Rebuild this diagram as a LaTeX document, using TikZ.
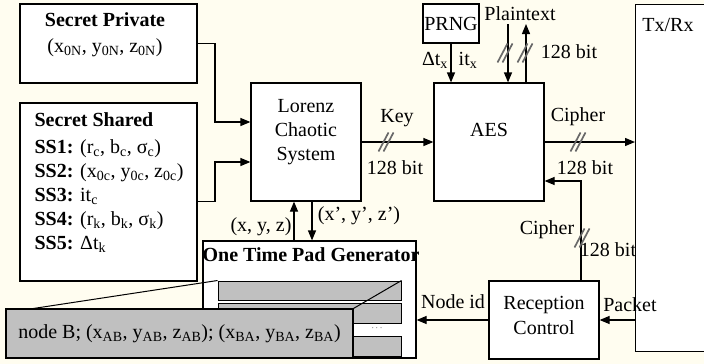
\documentclass[tikz,border=0pt]{standalone}
\usepackage{fontspec}
\setmainfont{Liberation Serif}
\usetikzlibrary{arrows.meta}
\definecolor{bgc}{RGB}{255,253,240}
\definecolor{padgray}{RGB}{192,192,192}
\definecolor{slashgray}{RGB}{105,105,105}
\tikzset{
  box/.style={draw, fill=white, inner sep=0pt},
  padrow/.style={draw, fill=padgray, inner sep=0pt, minimum width=183, line width=1pt},
  lbl/.style={inner sep=0pt},
  conn/.style={->, line width=1.2pt},
  busmark/.pic={\draw[slashgray, line width=1.7pt] (-7.5,9.5) -- (2.5,-9.5) (-2.5,9.5) -- (7.5,-9.5);}
}
\newcommand{\sbs}[1]{\textsubscript{#1}}
\begin{document}
\begin{tikzpicture}[x=1pt, y=-1pt, font=\fontsize{20}{24}\selectfont, line width=1.2pt,
  >={Triangle[length=10pt,width=8pt]}]
\useasboundingbox[fill=bgc] (0,0) rectangle (704,364);

% boxes
\node[box, minimum width=177, minimum height=79] (sp) at (108.5,43.5) {};
\node[box, minimum width=177, minimum height=178] (ss) at (108.5,192) {};
\node[box, minimum width=110, minimum height=118] (lz) at (306,142) {};
\node[box, minimum width=110, minimum height=118] (aes) at (489,142) {};
\node[box, minimum width=56, minimum height=39] (prng) at (451,23.5) {};
\node[box, minimum width=77, minimum height=347, anchor=north west] (txrx) at (635,4) {};
\node[box, minimum width=110, minimum height=78] (rc) at (544,320) {};
\node[box, minimum width=213, minimum height=117] (otp) at (309.5,299.5) {};

% texts in boxes
\node[lbl] (spt) at (105,20) {\textbf{Secret Private}};
\node[lbl] (spv) at (105,48) {(x\sbs{0N}, y\sbs{0N}, z\sbs{0N})};
\node[lbl, anchor=west] (sst) at (34,120) {\textbf{Secret Shared}};
\node[lbl, anchor=north west, align=left, font=\fontsize{20}{24}\selectfont] (ssl) at (34,139)
 {\textbf{SS1:} (r\sbs{c}, b\sbs{c}, σ\sbs{c})\\
  \textbf{SS2:} (x\sbs{0c}, y\sbs{0c}, z\sbs{0c})\\
  \textbf{SS3:} it\sbs{c}\\
  \textbf{SS4:} (r\sbs{k}, b\sbs{k}, σ\sbs{k})\\
  \textbf{SS5:} Δt\sbs{k}};
\node[lbl, align=center, font=\fontsize{20}{24}\selectfont] (lzt) at (306,132) {Lorenz\\Chaotic\\System};
\node[lbl] (aest) at (489,130) {AES};
\node[lbl] (prngt) at (451,23.5) {PRNG};
\node[lbl] (txrxt) at (668,25) {Tx/Rx};
\node[lbl, align=center, font=\fontsize{20}{25}\selectfont] (rct) at (544,315) {Reception\\Control};
\node[lbl] (otpt) at (311,255) {\textbf{One Time Pad Generator}};

% one time pad rows
\node[padrow, minimum height=19] (row1) at (309.5,290.5) {};
\node[padrow, minimum height=20] (row2) at (309.5,313) {};
\node[lbl, font=\fontsize{9}{10}\selectfont] (row3) at (377,328) {$\cdots$};
\node[padrow, minimum height=20] (row4) at (309.5,346) {};

% connectors
\coordinate (j1) at (215,122);
\coordinate (j2) at (215,162);
\draw[conn] (sp.east) -| (j1) -- (j1 -| lz.west);
\draw[conn] (ss.east |- lz.south) -| (j2) -- (j2 -| lz.west);
\draw[conn] (lz.east) -- (aes.west);
\draw[conn] (prng.south) -- (prng.south |- aes.north);
\coordinate (pt1) at (508,24);
\coordinate (pt2) at (526,24);
\draw[conn] (pt1) -- (pt1 |- aes.north);
\draw[conn] (pt2 |- aes.north) -- (pt2);
\draw[conn] (aes.east) -- (aes.east -| txrx.west);
\coordinate (cr) at (581,181);
\draw[conn] (rc.north -| cr) -- (cr) -- (cr -| aes.east);
\draw[conn] (rc.east -| txrx.west) -- (rc.east);
\draw[conn] (rc.west) -- (rc.west -| otp.east);
\coordinate (u) at (294,0);
\coordinate (v) at (312,0);
\draw[conn] (u |- otp.north) -- (u |- lz.south);
\draw[conn] (v |- lz.south) -- (v |- otp.north);

% bus marks
\pic at (386,142) {busmark};
\pic at (505,53) {busmark};
\pic at (525,53) {busmark};
\pic at (578,142) {busmark};
\pic at (582,238) {busmark};

% connector labels
\node[lbl] (keyl) at (397,118) {Key};
\node[lbl] (keyb) at (395,168) {128 bit};
\node[lbl] (dtx) at (435,60) {Δt\sbs{x}};
\node[lbl] (itx) at (468,60) {it\sbs{x}};
\node[lbl] (ptl) at (520,14) {Plaintext};
\node[lbl] (ptb) at (569,52) {128 bit};
\node[lbl] (cil) at (578,117) {Cipher};
\node[lbl] (cib) at (585,168) {128 bit};
\node[lbl] (crl) at (547,230) {Cipher};
\node[lbl] (crb) at (608,250) {128 bit};
\node[lbl] (pkl) at (630,305) {Packet};
\node[lbl] (nil) at (453,302) {Node id};
\node[lbl] (xyz) at (261,227) {(x, y, z)};
\node[lbl] (xyzp) at (359,216) {(x', y', z')};

% zoomed pad entry
\coordinate (cl) at (30,309);
\draw[line width=1pt] (row1.north west) -- (cl);
\node[draw, fill=padgray, inner sep=0pt, minimum width=347, minimum height=49] (nodeB) at (179.5,333.5)
  {node B; (x\sbs{AB}, y\sbs{AB}, z\sbs{AB}); (x\sbs{BA}, y\sbs{BA}, z\sbs{BA})};
\draw[line width=1pt] (row1.north east) -- (nodeB.north east);
\end{tikzpicture}
\end{document}
